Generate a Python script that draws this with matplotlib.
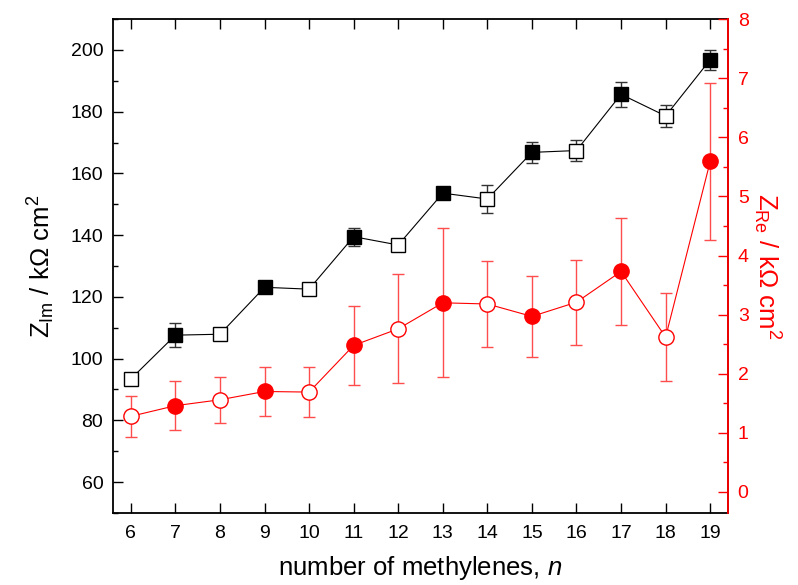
import numpy as np
import matplotlib.pyplot as plt

plt.rcParams['font.family'] = ['Liberation Sans', 'DejaVu Sans']
plt.rcParams['mathtext.fontset'] = 'custom'
plt.rcParams['mathtext.rm'] = 'Liberation Sans'
plt.rcParams['mathtext.it'] = 'Liberation Sans:italic'

# number of methylenes
n = np.array([6, 7, 8, 9, 10, 11, 12, 13, 14, 15, 16, 17, 18, 19])

# imaginary impedance (left axis)
z_im = np.array([93.4, 107.6, 107.9, 123.1, 122.5, 139.5, 136.8,
                 153.6, 151.7, 166.8, 167.4, 185.6, 178.6, 196.8])
z_im_err = np.array([0.0, 3.9, 0.0, 1.5, 0.0, 2.9, 0.0,
                     0.0, 4.5, 3.3, 3.3, 4.0, 3.7, 3.2])

# real impedance (right axis)
z_re = np.array([1.28, 1.46, 1.56, 1.70, 1.69, 2.48, 2.76,
                 3.20, 3.18, 2.97, 3.21, 3.73, 2.62, 5.59])
z_re_err = np.array([0.35, 0.41, 0.39, 0.41, 0.42, 0.67, 0.92,
                     1.26, 0.73, 0.68, 0.72, 0.90, 0.75, 1.32])

odd = n % 2 == 1
even = ~odd

fig = plt.figure(figsize=(7.98, 5.85), dpi=100)
ax1 = fig.add_axes([0.1416, 0.1231, 0.7707, 0.8444])
ax2 = ax1.twinx()

# black squares: Z_Im
ax1.plot(n, z_im, '-', color='black', lw=0.8, zorder=2)
ax1.errorbar(n, z_im, yerr=z_im_err, fmt='none', ecolor='#333333',
             elinewidth=1, capsize=4, capthick=1, zorder=3)
ax1.plot(n[odd], z_im[odd], 's', ms=10, mfc='black', mec='black', mew=1, zorder=4)
ax1.plot(n[even], z_im[even], 's', ms=10, mfc='white', mec='black', mew=1, zorder=4)

# red circles: Z_Re
ax2.plot(n, z_re, '-', color='red', lw=0.8, zorder=2)
ax2.errorbar(n, z_re, yerr=z_re_err, fmt='none', ecolor='#ff4d4d',
             elinewidth=1, capsize=4, capthick=1, zorder=3)
ax2.plot(n[odd], z_re[odd], 'o', ms=11, mfc='red', mec='red', mew=1, zorder=4)
ax2.plot(n[even], z_re[even], 'o', ms=11, mfc='white', mec='red', mew=1, zorder=4)

ax1.set_xlim(5.6, 19.4)
ax1.set_ylim(50, 210)
ax2.set_ylim(-0.355, 8)

ax1.set_xticks(n)
ax1.set_yticks(np.arange(60, 201, 20))
ax1.set_yticks(np.arange(50, 211, 10), minor=True)
ax2.set_yticks(np.arange(0, 9, 1))
ax2.set_yticks(np.arange(0, 8.01, 0.5), minor=True)

ax1.tick_params(axis='x', which='both', direction='in', top=True, length=7,
                width=1, labelsize=14, pad=9)
ax1.tick_params(axis='y', which='major', direction='in', length=7, width=1,
                labelsize=14, right=False, pad=7)
ax1.tick_params(axis='y', which='minor', direction='in', length=3.5, width=1,
                right=False)
ax2.tick_params(axis='y', which='major', direction='in', length=7, width=1,
                labelsize=14, colors='red', pad=7)
ax2.tick_params(axis='y', which='minor', direction='in', length=3.5, width=1,
                colors='red')

for sp in ax1.spines.values():
    sp.set_linewidth(1.3)
for sp in ax2.spines.values():
    sp.set_linewidth(1.3)
ax2.spines['right'].set_color('red')
ax2.spines['left'].set_visible(False)
ax2.spines['top'].set_visible(False)
ax2.spines['bottom'].set_visible(False)

ax1.set_xlabel(r'number of methylenes, $\it{n}$', fontsize=18.5, labelpad=8)
ax1.set_ylabel(r'Z$_{\rm Im}$ / k$\Omega$ cm$^2$', fontsize=18.5, labelpad=10)
ax2.set_ylabel(r'Z$_{\rm Re}$ / k$\Omega$ cm$^2$', fontsize=18.5, color='red',
               rotation=270, labelpad=24)

fig.savefig('out.png', dpi=100)
